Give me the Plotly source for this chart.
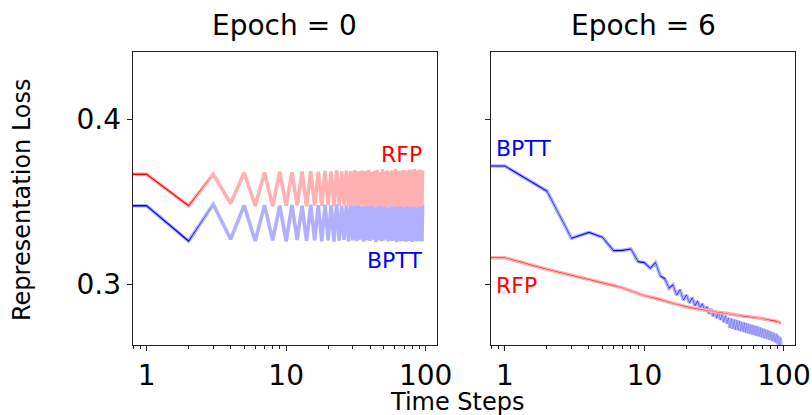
import math
import plotly.graph_objects as go

# ---------------- data ----------------
steps = list(range(96))

rfp_e0 = [0.3667, 0.3667, 0.3476, 0.3668, 0.3490, 0.3676, 0.3476, 0.3678, 0.3474, 0.3682,
          0.3476, 0.3679, 0.3478, 0.3684, 0.3473, 0.3686, 0.3477, 0.3683, 0.3475, 0.3688,
          0.3479, 0.3684, 0.3472, 0.3690, 0.3476, 0.3685, 0.3480, 0.3689, 0.3471, 0.3686,
          0.3478, 0.3692, 0.3474, 0.3684, 0.3479, 0.3690, 0.3470, 0.3687, 0.3477, 0.3693,
          0.3473, 0.3681, 0.3482, 0.3688, 0.3466, 0.3694, 0.3476, 0.3680, 0.3481, 0.3697,
          0.3470, 0.3684, 0.3478, 0.3689, 0.3462, 0.3679, 0.3483, 0.3691, 0.3474, 0.3686,
          0.3479, 0.3700, 0.3469, 0.3683, 0.3477, 0.3688, 0.3472, 0.3681, 0.3484, 0.3692,
          0.3466, 0.3686, 0.3478, 0.3690, 0.3473, 0.3684, 0.3480, 0.3695, 0.3468, 0.3682,
          0.3476, 0.3689, 0.3471, 0.3699, 0.3479, 0.3685, 0.3464, 0.3690, 0.3477, 0.3683,
          0.3474, 0.3696, 0.3470, 0.3687, 0.3481, 0.3692]
rfp_e0_std = [0.0005, 0.0005, 0.0005] + [0.0] * 93

bptt_e0 = [0.3476, 0.3476, 0.3262, 0.3485, 0.3273, 0.3478, 0.3262, 0.3480, 0.3266, 0.3477,
           0.3260, 0.3481, 0.3268, 0.3476, 0.3263, 0.3483, 0.3267, 0.3479, 0.3261, 0.3482,
           0.3266, 0.3478, 0.3258, 0.3484, 0.3265, 0.3477, 0.3269, 0.3481, 0.3260, 0.3486,
           0.3266, 0.3479, 0.3262, 0.3483, 0.3270, 0.3476, 0.3259, 0.3482, 0.3267, 0.3480,
           0.3263, 0.3487, 0.3271, 0.3478, 0.3256, 0.3484, 0.3268, 0.3479, 0.3261, 0.3483,
           0.3266, 0.3476, 0.3272, 0.3486, 0.3259, 0.3480, 0.3267, 0.3482, 0.3262, 0.3477,
           0.3269, 0.3485, 0.3255, 0.3479, 0.3266, 0.3483, 0.3261, 0.3478, 0.3270, 0.3484,
           0.3263, 0.3481, 0.3258, 0.3477, 0.3268, 0.3486, 0.3262, 0.3480, 0.3267, 0.3483,
           0.3257, 0.3478, 0.3269, 0.3485, 0.3264, 0.3479, 0.3260, 0.3482, 0.3271, 0.3476,
           0.3263, 0.3484, 0.3266, 0.3480, 0.3259, 0.3483]
bptt_e0_std = [0.0005, 0.0005, 0.0005] + [0.0] * 93

rfp_e6 = [0.3161, 0.3161, 0.3091, 0.3056, 0.3032, 0.3012, 0.2993, 0.2977, 0.2962, 0.2945,
          0.2930, 0.2924, 0.2915, 0.2908, 0.2899, 0.2891, 0.2886, 0.2878, 0.2874, 0.2868,
          0.2864, 0.2860, 0.2856, 0.2853, 0.2850, 0.2848, 0.2846, 0.2843, 0.2841, 0.2840,
          0.2838, 0.2836, 0.2834, 0.2832, 0.2830, 0.2828, 0.2826, 0.2825, 0.2823, 0.2822,
          0.2820, 0.2819, 0.2818, 0.2816, 0.2815, 0.2813, 0.2812, 0.2811, 0.2810, 0.2809,
          0.2808, 0.2807, 0.2806, 0.2805, 0.2805, 0.2804, 0.2805, 0.2804, 0.2801, 0.2800,
          0.2800, 0.2799, 0.2798, 0.2798, 0.2797, 0.2796, 0.2796, 0.2795, 0.2794, 0.2793,
          0.2792, 0.2792, 0.2791, 0.2790, 0.2790, 0.2789, 0.2788, 0.2788, 0.2787, 0.2786,
          0.2785, 0.2785, 0.2784, 0.2783, 0.2782, 0.2781, 0.2780, 0.2779, 0.2778, 0.2776,
          0.2775, 0.2773, 0.2771, 0.2769, 0.2767, 0.2765]
rfp_e6_std = [0.00012] * 96

bptt_e6 = [0.3717, 0.3717, 0.3565, 0.3279, 0.3315, 0.3285, 0.3204, 0.3206, 0.3214, 0.3137,
           0.3131, 0.3097, 0.3131, 0.3050, 0.3034, 0.2976, 0.2996, 0.2935, 0.2967, 0.2905,
           0.2935, 0.2888, 0.2918, 0.2870, 0.2898, 0.2856, 0.2882, 0.2840, 0.2864, 0.2822,
           0.2850, 0.2806, 0.2840, 0.2795, 0.2830, 0.2785, 0.2822, 0.2770, 0.2810, 0.2762,
           0.2797, 0.2735, 0.2792, 0.2730, 0.2787, 0.2725, 0.2783, 0.2721, 0.2778, 0.2716,
           0.2772, 0.2710, 0.2768, 0.2707, 0.2764, 0.2703, 0.2760, 0.2700, 0.2756, 0.2696,
           0.2752, 0.2692, 0.2748, 0.2689, 0.2745, 0.2686, 0.2741, 0.2683, 0.2737, 0.2679,
           0.2733, 0.2676, 0.2729, 0.2673, 0.2726, 0.2670, 0.2722, 0.2667, 0.2718, 0.2663,
           0.2714, 0.2660, 0.2710, 0.2656, 0.2707, 0.2652, 0.2703, 0.2648, 0.2699, 0.2644,
           0.2690, 0.2634, 0.2684, 0.2628, 0.2678, 0.2622]
bptt_e6_std = [0.00035] * 96

x_ticks = [1, 10, 100]
x_tick_text = ["1", "10", "100"]
x_minor = [0.8, 0.9, 2, 3, 4, 5, 6, 7, 8, 9, 20, 30, 40, 50, 60, 70, 80, 90]
y_ticks = [0.3, 0.4]
y_tick_text = ["0.3", "0.4"]

# ---------------- style ----------------
FONT = "DejaVu Sans"
W, H = 812, 415
RED, BLUE = "#ff0000", "#0000ff"
RED_L, BLUE_L = "#ffb0b0", "#b0b0ff"

# matplotlib clips non-positive x on log axes; mimic that
xs = [s if s > 0 else 0.01 for s in steps]


def px(x):
    return x / W


def py(y):
    return 1 - y / H


fig = go.Figure()


def add_series(mean, std, dark, light, xa, ya):
    fig.add_trace(go.Scatter(x=xs, y=mean, mode="lines", xaxis=xa, yaxis=ya,
                             line=dict(color=light, width=3.6), showlegend=False,
                             hoverinfo="skip"))
    lo = [m - s for m, s in zip(mean, std)]
    hi = [m + s for m, s in zip(mean, std)]
    fig.add_trace(go.Scatter(x=xs, y=lo, mode="lines", xaxis=xa, yaxis=ya,
                             line=dict(width=0, color=dark), showlegend=False,
                             hoverinfo="skip"))
    fig.add_trace(go.Scatter(x=xs, y=hi, mode="lines", xaxis=xa, yaxis=ya,
                             line=dict(width=0, color=dark), fill="tonexty",
                             fillcolor=dark, showlegend=False, hoverinfo="skip"))


add_series(bptt_e0, bptt_e0_std, BLUE, BLUE_L, "x", "y")
add_series(rfp_e0, rfp_e0_std, RED, RED_L, "x", "y")
add_series(bptt_e6, bptt_e6_std, BLUE, BLUE_L, "x2", "y2")
add_series(rfp_e6, rfp_e6_std, RED, RED_L, "x2", "y2")

xaxis_common = dict(type="log", range=[-0.1, 2.079], showline=True, mirror=True,
                    linecolor="#222", linewidth=1.1, showgrid=False, zeroline=False,
                    ticks="outside", ticklen=5, tickwidth=1.1, tickcolor="#222",
                    tickmode="array", tickvals=x_ticks, ticktext=x_tick_text,
                    tickfont=dict(family=FONT, size=28, color="black"),
                    minor=dict(ticks="outside", ticklen=3, tickwidth=0.8,
                               tickcolor="#222", tickmode="array", tickvals=x_minor,
                               showgrid=False),
                    automargin=False)
yaxis_common = dict(range=[0.2632, 0.441], showline=True, mirror=True,
                    linecolor="#222", linewidth=1.1, showgrid=False, zeroline=False,
                    ticks="outside", ticklen=5, tickwidth=1.1, tickcolor="#222",
                    tickmode="array", tickvals=y_ticks, ticktext=y_tick_text,
                    tickfont=dict(family=FONT, size=28, color="black"),
                    domain=[0.1687, 0.8754], automargin=False)

fig.update_layout(
    width=W, height=H,
    margin=dict(l=0, r=0, t=0, b=0),
    paper_bgcolor="white", plot_bgcolor="white",
    xaxis=dict(xaxis_common, domain=[px(132.7), px(436.7)], anchor="y"),
    xaxis2=dict(xaxis_common, domain=[px(491), px(795)], anchor="y2"),
    yaxis=dict(yaxis_common, anchor="x"),
    yaxis2=dict(yaxis_common, anchor="x2", showticklabels=False),
    font=dict(family=FONT),
)

ann = []
# panel titles
ann.append(dict(text="Epoch = 0", x=px(284.7), y=py(25.5), xref="paper", yref="paper",
                showarrow=False, font=dict(family=FONT, size=28, color="black"),
                xanchor="center", yanchor="middle"))
ann.append(dict(text="Epoch = 6", x=px(643), y=py(25.5), xref="paper", yref="paper",
                showarrow=False, font=dict(family=FONT, size=28, color="black"),
                xanchor="center", yanchor="middle"))
# axis titles
ann.append(dict(text="Time Steps", x=px(457), y=py(401.5), xref="paper", yref="paper",
                showarrow=False, font=dict(family=FONT, size=24, color="black"),
                xanchor="center", yanchor="middle"))
ann.append(dict(text="Representation Loss", x=px(22), y=py(200), xref="paper", yref="paper",
                showarrow=False, textangle=-90,
                font=dict(family=FONT, size=24, color="black"),
                xanchor="center", yanchor="middle"))
# series labels
ann.append(dict(text="RFP", x=1.988, y=0.3786, xref="x", yref="y", showarrow=False,
                xanchor="right", yanchor="middle", font=dict(family=FONT, size=22, color=RED)))
ann.append(dict(text="BPTT", x=1.988, y=0.3143, xref="x", yref="y", showarrow=False,
                xanchor="right", yanchor="middle", font=dict(family=FONT, size=22, color=BLUE)))
ann.append(dict(text="BPTT", x=-0.078, y=0.3822, xref="x2", yref="y2", showarrow=False,
                xanchor="left", yanchor="middle", font=dict(family=FONT, size=22, color=BLUE)))
ann.append(dict(text="RFP", x=-0.078, y=0.2994, xref="x2", yref="y2", showarrow=False,
                xanchor="left", yanchor="middle", font=dict(family=FONT, size=22, color=RED)))
fig.update_layout(annotations=ann)

fig.write_html("out.html", config={"displayModeBar": False},
               post_script="document.body.style.margin='0';document.body.style.overflow='hidden';")
